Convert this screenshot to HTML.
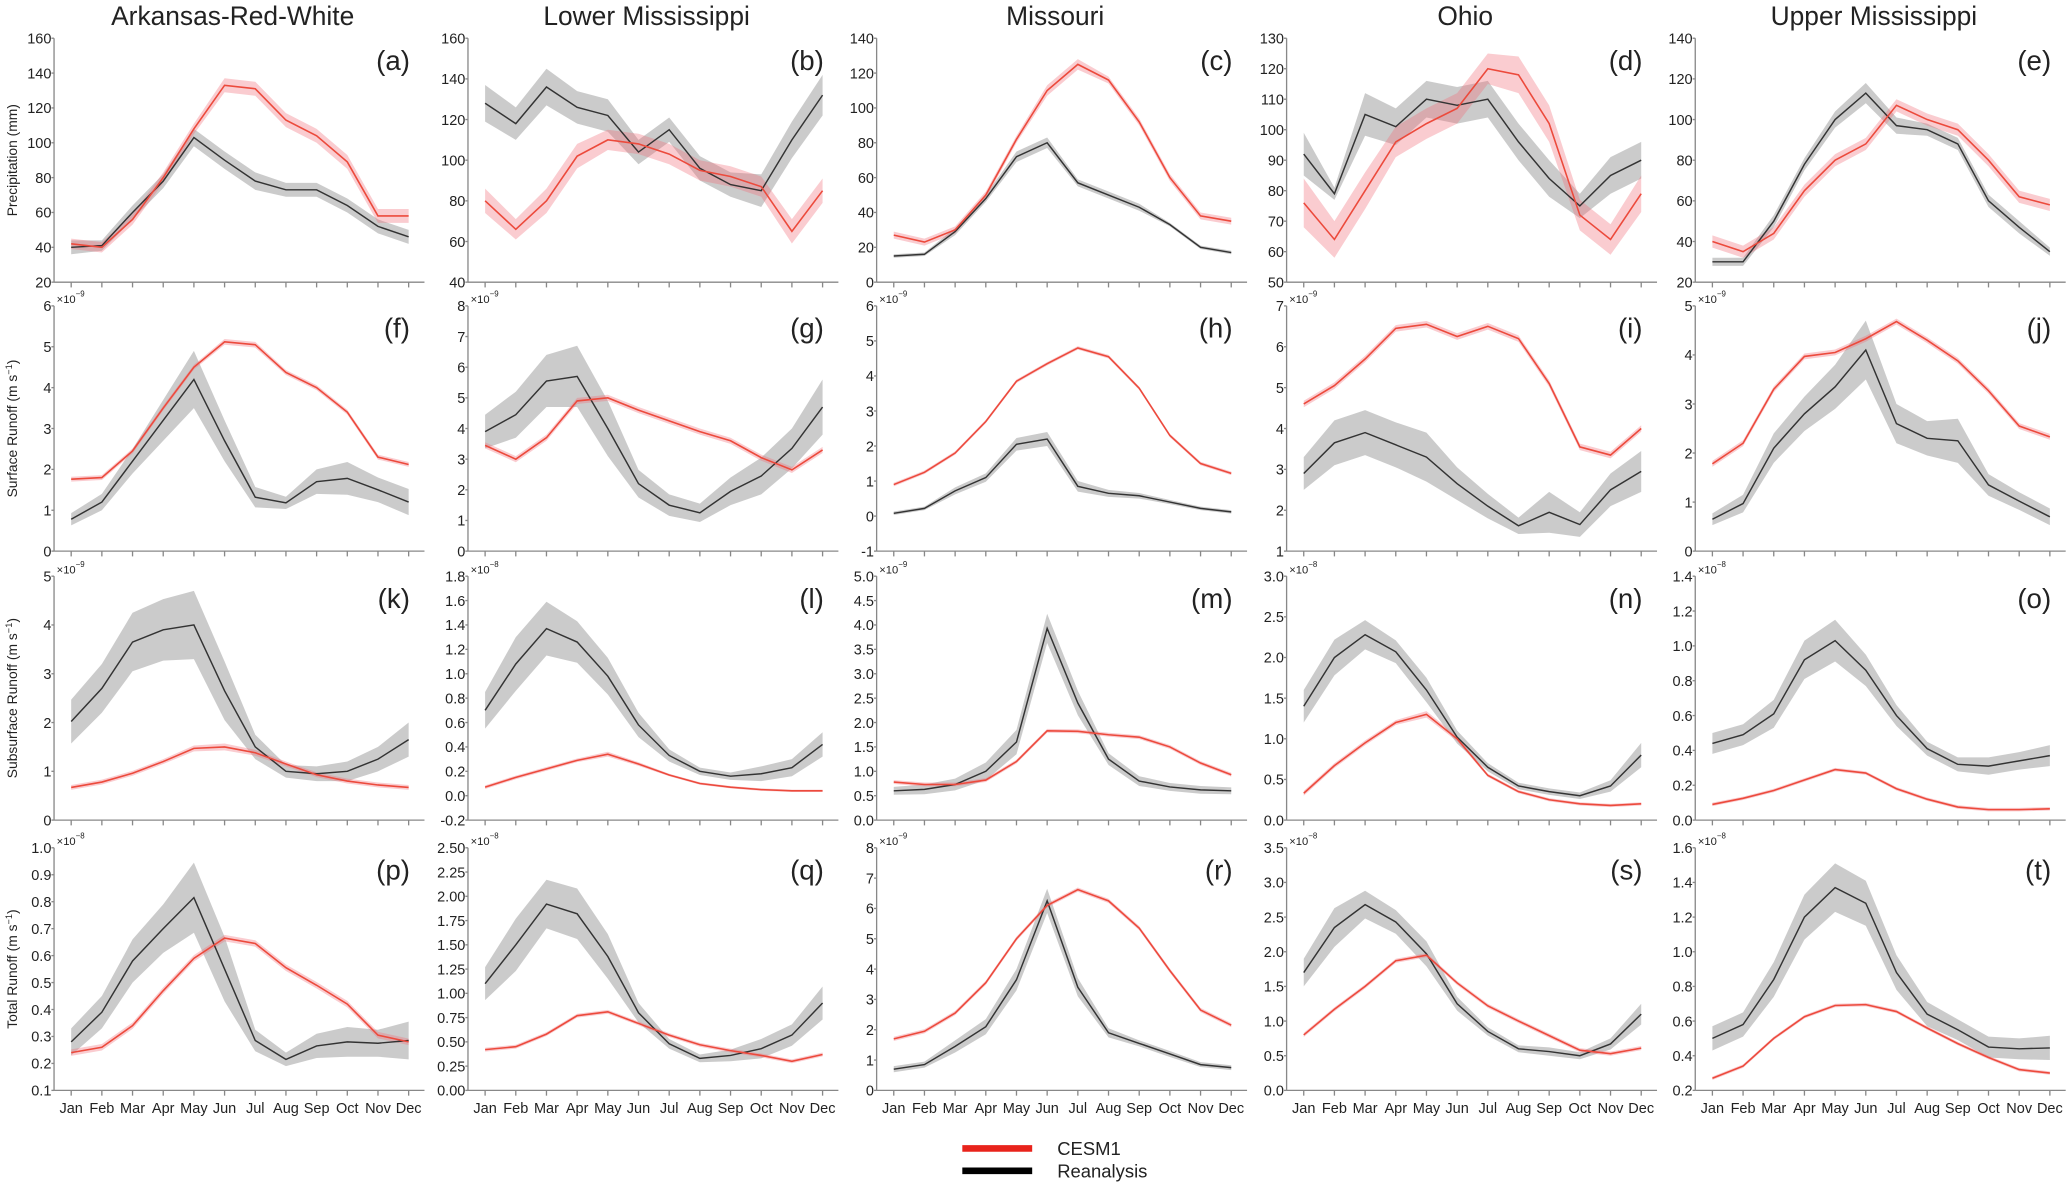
<!DOCTYPE html>
<html><head><meta charset="utf-8">
<style>
html,body{margin:0;padding:0;background:#fff;}
svg{display:block;}
text{font-family:"Liberation Sans",Arial,sans-serif;fill:#222;}
</style></head>
<body>
<svg id="fig" width="2067" height="1184" viewBox="0 0 1568 898" preserveAspectRatio="none" xmlns="http://www.w3.org/2000/svg">
<g id="panels"></g>
<g>
  <line x1="730" y1="871" x2="783" y2="871" stroke="#e8231b" stroke-width="5"/>
  <text x="802" y="876" font-size="14">CESM1</text>
  <line x1="730" y1="888" x2="783" y2="888" stroke="#000" stroke-width="5"/>
  <text x="802" y="893" font-size="14">Reanalysis</text>
</g>
</svg>
<script>
const months = ["Jan","Feb","Mar","Apr","May","Jun","Jul","Aug","Sep","Oct","Nov","Dec"];
const basins = ["Arkansas-Red-White","Lower Mississippi","Missouri","Ohio","Upper Mississippi"];
const rowTitles = ["Precipitation (mm)","Surface Runoff (m s","Subsurface Runoff (m s","Total Runoff (m s"];
const panelLetters = ["a","b","c","d","e","f","g","h","i","j","k","l","m","n","o","p","q","r","s","t"];
// axis specs: [min, max, step, decimals, exponent]
const axisA=[20,160,20,0,""], axisB=[40,160,20,0,""], axisC=[0,140,20,0,""], axisD=[50,130,10,0,""], axisE=[20,140,20,0,""];
const axisF=[0,6,1,0,"-9"], axisG=[0,8,1,0,"-9"], axisH=[-1,6,1,0,"-9"], axisI=[1,7,1,0,"-9"], axisJ=[0,5,1,0,"-9"];
const axisK=[0,5,1,0,"-9"], axisL=[-0.2,1.8,0.2,1,"-8"], axisM=[0,5,0.5,1,"-9"], axisN=[0,3,0.5,1,"-8"], axisO=[0,1.4,0.2,1,"-8"];
const axisP=[0.1,1.0,0.1,1,"-8"], axisQ=[0,2.5,0.25,2,"-8"], axisR=[0,8,1,0,"-9"], axisS=[0,3.5,0.5,1,"-8"], axisT=[0.2,1.6,0.2,1,"-8"];

// CESM1 (red) means and band half-widths; Reanalysis (black) means and band half-widths
const redA=[42,40,56,80,108,133,131,113,104,89,58,58], redBandA=[3,3,3,3,3,4,4,4,4,4,4,4];
const blkA=[40,41,60,78,103,90,78,73,73,64,52,46], blkBandA=[4,3,4,4,5,5,5,4,4,4,4,4];
const redB=[80,66,80,102,110,108,103,95,92,87,65,85], redBandB=[6,5,6,6,5,5,5,5,5,5,6,6];
const blkB=[128,118,136,126,122,104,115,96,88,85,110,132], blkBandB=[9,8,9,8,8,6,6,6,6,8,9,10];
const redC=[27,23,30,50,82,110,125,116,92,60,38,35], redBandC=[2,2,2,2,2,3,3,2,2,2,2,2];
const blkC=[15,16,29,48,72,80,57,50,43,33,20,17], blkBandC=[1,1,2,2,3,3,2,2,2,1,1,1];
const redD=[76,64,80,96,102,107,120,118,102,72,64,79], redBandD=[8,6,6,5,5,5,5,6,6,5,5,6];
const blkD=[92,79,105,101,110,108,110,96,84,75,85,90], blkBandD=[7,2,7,6,6,6,6,6,6,4,6,6];
const redE=[40,35,44,65,80,88,107,100,95,80,62,58], redBandE=[3,3,3,3,3,3,3,3,3,3,3,3];
const blkE=[30,30,50,78,100,113,97,95,88,60,47,35], blkBandE=[2,2,3,3,4,5,4,3,3,3,3,2];

const redF=[1.76,1.8,2.45,3.5,4.5,5.12,5.05,4.37,4.0,3.4,2.3,2.12], redBandF=[0.06,0.06,0.06,0.06,0.06,0.07,0.07,0.06,0.06,0.06,0.06,0.06];
const blkF=[0.78,1.2,2.2,3.2,4.2,2.7,1.32,1.18,1.7,1.78,1.5,1.2], blkBandF=[0.15,0.2,0.3,0.5,0.7,0.5,0.25,0.15,0.3,0.4,0.3,0.32];
const redG=[3.45,3.0,3.7,4.9,5.0,4.6,4.25,3.9,3.6,3.05,2.65,3.3], redBandG=[0.1,0.1,0.1,0.1,0.1,0.1,0.1,0.1,0.1,0.1,0.1,0.1];
const blkG=[3.9,4.45,5.55,5.7,4.0,2.2,1.5,1.25,1.95,2.45,3.35,4.7], blkBandG=[0.55,0.75,0.85,1.0,0.9,0.45,0.35,0.3,0.45,0.6,0.65,0.9];
const redH=[0.9,1.25,1.8,2.7,3.85,4.35,4.8,4.55,3.65,2.3,1.5,1.22], redBandH=[0.05,0.05,0.05,0.05,0.05,0.05,0.05,0.05,0.05,0.05,0.05,0.05];
const blkH=[0.08,0.22,0.72,1.1,2.05,2.2,0.85,0.65,0.58,0.4,0.22,0.12], blkBandH=[0.05,0.05,0.1,0.12,0.18,0.2,0.15,0.1,0.08,0.06,0.05,0.05];
const redI=[4.6,5.05,5.7,6.45,6.55,6.25,6.5,6.2,5.1,3.55,3.35,4.0], redBandI=[0.08,0.08,0.08,0.08,0.08,0.08,0.08,0.08,0.08,0.08,0.08,0.08];
const blkI=[2.9,3.65,3.9,3.6,3.3,2.65,2.1,1.62,1.95,1.65,2.5,2.95], blkBandI=[0.4,0.55,0.55,0.55,0.6,0.4,0.3,0.2,0.5,0.3,0.4,0.5];
const redJ=[1.78,2.2,3.3,3.97,4.05,4.33,4.68,4.3,3.88,3.27,2.55,2.33], redBandJ=[0.06,0.06,0.06,0.06,0.06,0.06,0.06,0.06,0.06,0.06,0.06,0.06];
const blkJ=[0.65,0.97,2.1,2.8,3.35,4.1,2.6,2.3,2.25,1.35,1.02,0.7], blkBandJ=[0.12,0.18,0.3,0.35,0.45,0.6,0.4,0.35,0.45,0.22,0.18,0.17];

const redK=[0.67,0.78,0.96,1.2,1.47,1.5,1.38,1.15,0.93,0.8,0.72,0.67], redBandK=[0.05,0.05,0.05,0.05,0.06,0.07,0.06,0.05,0.05,0.05,0.05,0.05];
const blkK=[2.02,2.7,3.65,3.9,4.0,2.65,1.5,1.0,0.95,1.0,1.25,1.65], blkBandK=[0.45,0.5,0.6,0.63,0.7,0.6,0.25,0.13,0.15,0.2,0.25,0.35];
const redL=[0.07,0.15,0.22,0.29,0.34,0.26,0.17,0.1,0.07,0.05,0.04,0.04], redBandL=[0.015,0.015,0.015,0.015,0.02,0.015,0.01,0.01,0.01,0.01,0.01,0.01];
const blkL=[0.7,1.08,1.37,1.26,0.98,0.58,0.33,0.2,0.16,0.18,0.23,0.42], blkBandL=[0.15,0.22,0.22,0.17,0.15,0.1,0.05,0.03,0.03,0.06,0.07,0.1];
const redM=[0.78,0.73,0.73,0.82,1.2,1.83,1.82,1.75,1.7,1.5,1.17,0.93], redBandM=[0.04,0.04,0.04,0.04,0.04,0.04,0.04,0.04,0.04,0.04,0.04,0.04];
const blkM=[0.6,0.63,0.73,1.0,1.6,3.93,2.4,1.25,0.8,0.68,0.62,0.6], blkBandM=[0.08,0.1,0.12,0.18,0.25,0.3,0.25,0.12,0.1,0.08,0.08,0.07];
const redN=[0.33,0.67,0.95,1.2,1.3,1.0,0.55,0.35,0.25,0.2,0.18,0.2], redBandN=[0.03,0.03,0.03,0.03,0.04,0.03,0.02,0.02,0.02,0.02,0.02,0.02];
const blkN=[1.4,2.0,2.28,2.07,1.6,1.02,0.65,0.42,0.35,0.3,0.42,0.8], blkBandN=[0.2,0.22,0.18,0.14,0.15,0.08,0.05,0.04,0.04,0.04,0.07,0.15];
const redO=[0.09,0.125,0.17,0.23,0.29,0.27,0.18,0.12,0.075,0.06,0.06,0.065], redBandO=[0.01,0.01,0.01,0.01,0.01,0.01,0.01,0.01,0.01,0.01,0.01,0.01];
const blkO=[0.44,0.49,0.61,0.92,1.03,0.86,0.6,0.41,0.32,0.31,0.34,0.37], blkBandO=[0.06,0.06,0.08,0.11,0.12,0.09,0.06,0.04,0.04,0.05,0.05,0.06];

const redP=[0.24,0.26,0.34,0.47,0.59,0.665,0.645,0.555,0.49,0.42,0.305,0.28], redBandP=[0.012,0.012,0.012,0.012,0.012,0.012,0.012,0.012,0.012,0.012,0.012,0.012];
const blkP=[0.28,0.39,0.58,0.7,0.815,0.55,0.285,0.215,0.265,0.28,0.275,0.285], blkBandP=[0.05,0.06,0.08,0.09,0.13,0.12,0.04,0.025,0.045,0.055,0.05,0.07];
const redQ=[0.42,0.45,0.58,0.77,0.81,0.69,0.57,0.47,0.41,0.36,0.3,0.37], redBandQ=[0.02,0.02,0.02,0.02,0.02,0.02,0.02,0.02,0.02,0.02,0.02,0.02];
const blkQ=[1.1,1.5,1.92,1.82,1.38,0.8,0.48,0.33,0.36,0.43,0.57,0.9], blkBandQ=[0.17,0.27,0.25,0.26,0.23,0.1,0.05,0.04,0.06,0.1,0.11,0.17];
const redR=[1.7,1.95,2.55,3.55,5.0,6.1,6.62,6.25,5.35,3.95,2.65,2.15], redBandR=[0.07,0.07,0.07,0.07,0.07,0.07,0.07,0.07,0.07,0.07,0.07,0.07];
const blkR=[0.7,0.85,1.45,2.1,3.65,6.25,3.4,1.9,1.55,1.2,0.85,0.75], blkBandR=[0.1,0.1,0.2,0.25,0.35,0.4,0.3,0.15,0.1,0.1,0.08,0.08];
const redS=[0.8,1.17,1.5,1.87,1.95,1.55,1.22,1.0,0.79,0.58,0.53,0.61], redBandS=[0.03,0.03,0.03,0.03,0.03,0.03,0.03,0.03,0.03,0.03,0.03,0.03];
const blkS=[1.7,2.35,2.68,2.43,1.97,1.25,0.85,0.6,0.56,0.5,0.67,1.1], blkBandS=[0.2,0.28,0.2,0.17,0.18,0.1,0.06,0.05,0.06,0.05,0.08,0.15];
const redT=[0.27,0.34,0.5,0.625,0.69,0.695,0.655,0.56,0.47,0.39,0.32,0.3], redBandT=[0.01,0.01,0.01,0.01,0.01,0.01,0.01,0.01,0.01,0.01,0.01,0.01];
const blkT=[0.5,0.58,0.84,1.2,1.37,1.28,0.88,0.64,0.55,0.45,0.44,0.445], blkBandT=[0.07,0.07,0.1,0.13,0.14,0.13,0.1,0.07,0.06,0.06,0.06,0.07];

const axes=[axisA,axisB,axisC,axisD,axisE,axisF,axisG,axisH,axisI,axisJ,axisK,axisL,axisM,axisN,axisO,axisP,axisQ,axisR,axisS,axisT];
const reds=[redA,redB,redC,redD,redE,redF,redG,redH,redI,redJ,redK,redL,redM,redN,redO,redP,redQ,redR,redS,redT];
const redBands=[redBandA,redBandB,redBandC,redBandD,redBandE,redBandF,redBandG,redBandH,redBandI,redBandJ,redBandK,redBandL,redBandM,redBandN,redBandO,redBandP,redBandQ,redBandR,redBandS,redBandT];
const blks=[blkA,blkB,blkC,blkD,blkE,blkF,blkG,blkH,blkI,blkJ,blkK,blkL,blkM,blkN,blkO,blkP,blkQ,blkR,blkS,blkT];
const blkBands=[blkBandA,blkBandB,blkBandC,blkBandD,blkBandE,blkBandF,blkBandG,blkBandH,blkBandI,blkBandJ,blkBandK,blkBandL,blkBandM,blkBandN,blkBandO,blkBandP,blkBandQ,blkBandR,blkBandS,blkBandT];

const NS="http://www.w3.org/2000/svg";
const colX=[41,355,665,976,1286], colW=281;
const rowTop=[29,232,437,643], rowBot=[214,418,622,827];
const root=document.getElementById('panels');
function mk(tag,attrs,parent){const e=document.createElementNS(NS,tag);for(const k in attrs)e.setAttribute(k,attrs[k]);(parent||root).appendChild(e);return e;}

basins.forEach((b,c)=>{
  const t=mk('text',{x:colX[c]+colW/2-5,y:19,'font-size':20,'text-anchor':'middle'});
  
  
  t.textContent=b;
});
rowTitles.forEach((rt,r)=>{
  const cy=(rowTop[r]+rowBot[r])/2;
  const t=mk('text',{x:0,y:0,'font-size':10.5,'text-anchor':'middle',transform:`translate(13,${cy}) rotate(-90)`});
  
  
  t.textContent=rt;
  if(r>0){const s=mk('tspan',{dy:-4,'font-size':7},t);s.textContent='−1';const s2=mk('tspan',{dy:4},t);s2.textContent=')';}
});

for(let p=0;p<20;p++){
  const r=Math.floor(p/5), c=p%5;
  const [mn,mx,st,dec,ex]=axes[p];
  const x0=colX[c], top=rowTop[r], bot=rowBot[r];
  const g=mk('g',{});
  
  
  const xs=i=>x0+13+i*(256/11);
  const ys=v=>bot-(v-mn)/(mx-mn)*(bot-top);
  // axes
  const ya=mk('line',{x1:x0,y1:top,x2:x0,y2:bot,stroke:'#888','stroke-width':1},g);
  
  
  const xa=mk('line',{x1:x0,y1:bot,x2:x0+colW,y2:bot,stroke:'#888','stroke-width':1},g);
  
  
  const nT=Math.round((mx-mn)/st);
  for(let k=0;k<=nT;k++){
    const v=mn+k*st, y=ys(v);
    mk('line',{x1:x0-2,y1:y,x2:x0,y2:y,stroke:'#888'},g);
    const tl=mk('text',{x:x0-2,y:y+4,'font-size':11,'text-anchor':'end'},g);
    
    
    tl.textContent=v.toFixed(dec);
  }
  if(ex){
    const e=mk('text',{x:x0+2,y:top-2,'font-size':8.5},g);
    
    
    e.textContent='×10';
    const s=mk('tspan',{dy:-5,'font-size':6},e);s.textContent=ex.replace('-','−');
  }
  months.forEach((m,i)=>{
    mk('line',{x1:xs(i),y1:bot,x2:xs(i),y2:bot+4,stroke:'#888'},g);
    if(r===3){
      const ml=mk('text',{x:xs(i),y:bot+17,'font-size':11,'text-anchor':'middle'},g);
      
      
      ml.textContent=m;
    }
  });
  const band=(mean,bw,fill,name)=>{
    let d='M'+mean.map((v,i)=>xs(i)+','+ys(v+bw[i])).join('L');
    for(let i=11;i>=0;i--)d+='L'+xs(i)+','+ys(mean[i]-bw[i]);
    const pa=mk('path',{d:d+'Z',fill:fill,stroke:'none'},g);
    
    
  };
  const line=(mean,col,w,name)=>{
    const pl=mk('polyline',{points:mean.map((v,i)=>xs(i)+','+ys(v)).join(' '),fill:'none',stroke:col,'stroke-width':w},g);
    
    
  };
  band(blks[p],blkBands[p],'rgba(160,160,160,0.55)','reanalysis-band');
  band(reds[p],redBands[p],'rgba(240,110,120,0.35)','cesm1-band');
  line(blks[p],'#333',1.1,'reanalysis-line');
  line(reds[p],'#ec4a3c',1.2,'cesm1-line');
  const pl=mk('text',{x:x0+270,y:top+24,'font-size':21,'text-anchor':'end'},g);
  
  
  pl.textContent='('+panelLetters[p]+')';
}
</script>
</body></html>
